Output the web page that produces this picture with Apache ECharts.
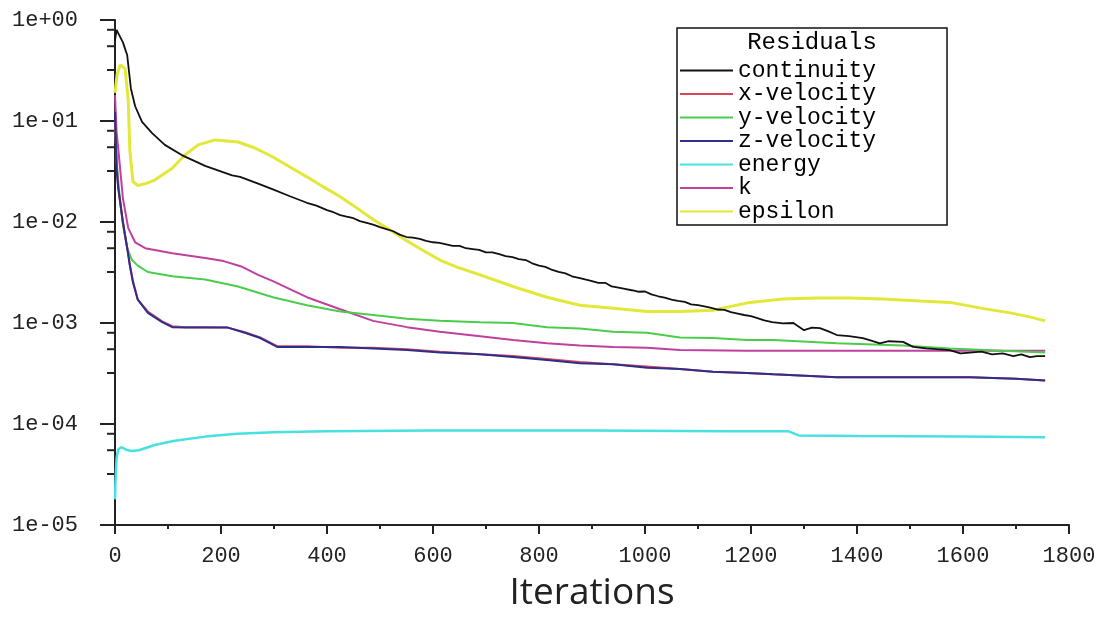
<!DOCTYPE html>
<html><head><meta charset="utf-8">
<script src="https://cdn.jsdelivr.net/npm/echarts@6/dist/echarts.min.js"></script>
<style>html,body{margin:0;padding:0;background:#fff}#c{width:1113px;height:618px}</style>
</head><body><div id="c"></div>
<script>
const legendTitle = 'Residuals';
const seriesNames = ['continuity','x-velocity','y-velocity','z-velocity','energy','k','epsilon'];
const xMin = 0, xMax = 1800, xInterval = 200;
const yMin = 1e-5, yMax = 1;
const yMinorTickFactors = [0.8, 0.55, 0.32];

const continuity = [[0,0.63],[3,0.8],[6,0.74],[9,0.76],[15,0.6],[20,0.5],[23,0.45],[25,0.36],[30,0.21],[38,0.14],[51,0.098],[70,0.076],[94,0.058],[126,0.046],[170,0.036],[221,0.029],[236,0.028],[270,0.024],[298,0.021],[330,0.018],[362,0.0155],[380,0.0145],[400,0.0131],[412,0.0125],[425,0.0117],[437,0.0113],[450,0.0109],[462,0.0102],[475,0.0098],[487,0.0094],[500,0.0089],[512,0.0085],[525,0.0081],[537,0.0075],[550,0.0071],[562,0.0070],[575,0.0068],[587,0.0065],[600,0.0063],[612,0.0062],[625,0.0060],[637,0.0058],[650,0.0058],[662,0.0055],[675,0.0054],[687,0.0053],[700,0.0050],[712,0.0050],[725,0.0048],[737,0.0046],[750,0.0045],[762,0.0043],[775,0.0042],[787,0.0039],[800,0.0037],[812,0.0036],[825,0.00335],[837,0.0032],[850,0.0031],[862,0.0029],[875,0.0028],[887,0.0027],[900,0.0026],[912,0.0025],[925,0.0025],[937,0.0023],[950,0.00224],[962,0.00218],[975,0.00211],[987,0.00204],[1000,0.00205],[1012,0.00192],[1025,0.00184],[1037,0.00178],[1050,0.0017],[1062,0.00166],[1075,0.00162],[1087,0.00153],[1100,0.0015],[1112,0.00146],[1125,0.00141],[1137,0.00136],[1150,0.00135],[1162,0.00128],[1175,0.00124],[1187,0.0012],[1200,0.00117],[1212,0.00112],[1225,0.00106],[1240,0.00102],[1260,0.00099],[1280,0.001],[1300,0.00085],[1315,0.0009],[1330,0.00089],[1345,0.00083],[1362,0.00076],[1385,0.00074],[1411,0.00071],[1430,0.00066],[1443,0.00063],[1460,0.00066],[1487,0.00065],[1506,0.00058],[1530,0.00056],[1551,0.00055],[1575,0.00054],[1595,0.0005],[1613,0.00051],[1635,0.00052],[1655,0.00049],[1675,0.0005],[1695,0.00047],[1710,0.00049],[1726,0.00046],[1740,0.00047],[1755,0.00047]];

const xVelocity = [[0,0.1],[3,0.04],[6,0.022],[10,0.015],[15,0.0098],[23,0.0056],[28,0.0038],[34,0.0026],[43,0.0017],[62,0.0013],[89,0.00104],[108,0.00093],[132,0.00091],[170,0.00091],[213,0.0009],[245,0.00081],[274,0.00072],[306,0.00059],[362,0.00059],[425,0.00057],[487,0.00057],[551,0.00055],[613,0.00052],[689,0.00049],[751,0.00047],[815,0.00044],[877,0.00041],[940,0.00039],[1004,0.00037],[1066,0.00035],[1128,0.00033],[1192,0.00032],[1242,0.00031],[1362,0.00029],[1487,0.00029],[1613,0.00029],[1700,0.00028],[1755,0.00027]];

const yVelocity = [[0,0.1],[3,0.04],[8,0.02],[15,0.0093],[23,0.0055],[32,0.0042],[43,0.0037],[62,0.0032],[108,0.0029],[170,0.0027],[232,0.0023],[298,0.0018],[362,0.0015],[425,0.0013],[487,0.0012],[551,0.0011],[613,0.00105],[689,0.00102],[751,0.001],[815,0.00091],[877,0.00088],[940,0.00082],[1004,0.0008],[1066,0.00072],[1128,0.00071],[1192,0.00068],[1242,0.00068],[1362,0.00063],[1487,0.0006],[1575,0.00056],[1675,0.00053],[1755,0.00051]];

const zVelocity = [[0,0.123],[3,0.033],[6,0.022],[15,0.01],[23,0.0055],[28,0.0037],[34,0.0025],[43,0.0017],[62,0.00126],[89,0.00102],[108,0.00091],[132,0.0009],[170,0.0009],[213,0.0009],[245,0.0008],[274,0.00071],[306,0.00058],[362,0.00058],[425,0.00058],[487,0.00056],[551,0.00054],[613,0.00051],[689,0.00049],[751,0.00046],[815,0.00043],[877,0.0004],[940,0.00039],[1004,0.00036],[1066,0.00035],[1128,0.00033],[1192,0.00032],[1242,0.00031],[1362,0.00029],[1487,0.00029],[1613,0.00029],[1700,0.00028],[1755,0.00027]];

const energy = [[0,1.8e-5],[1,2.8e-5],[3,4.6e-5],[6,5.6e-5],[12,5.9e-5],[20,5.6e-5],[30,5.4e-5],[45,5.5e-5],[75,6.2e-5],[110,6.8e-5],[170,7.5e-5],[230,8.0e-5],[300,8.3e-5],[400,8.5e-5],[600,8.6e-5],[900,8.6e-5],[1150,8.5e-5],[1270,8.5e-5],[1290,7.7e-5],[1400,7.6e-5],[1600,7.5e-5],[1755,7.4e-5]];

const kData = [[0,0.18],[3,0.078],[9,0.037],[15,0.017],[25,0.0087],[38,0.0063],[57,0.0055],[108,0.0049],[170,0.0044],[205,0.0041],[240,0.0036],[270,0.003],[298,0.0026],[362,0.0018],[425,0.00137],[487,0.00105],[551,0.00091],[613,0.00082],[689,0.00074],[751,0.00068],[815,0.00063],[877,0.0006],[940,0.00058],[1004,0.00057],[1066,0.00054],[1192,0.00053],[1300,0.00053],[1500,0.00053],[1755,0.00053]];

const epsilon = [[0,0.19],[4,0.29],[10,0.36],[19,0.33],[25,0.16],[28,0.051],[34,0.025],[43,0.023],[58,0.024],[75,0.026],[108,0.034],[132,0.046],[157,0.058],[189,0.065],[232,0.062],[264,0.054],[298,0.044],[330,0.035],[362,0.028],[395,0.022],[425,0.0178],[456,0.0138],[487,0.0106],[520,0.0083],[551,0.0065],[582,0.0052],[613,0.0042],[650,0.0035],[689,0.003],[751,0.0023],[815,0.0018],[877,0.0015],[940,0.0014],[1004,0.0013],[1066,0.0013],[1128,0.00134],[1198,0.0016],[1260,0.00173],[1325,0.00177],[1387,0.00177],[1449,0.00173],[1519,0.00165],[1575,0.0016],[1642,0.00138],[1689,0.00126],[1726,0.00115],[1755,0.00105]];

const seriesData = {
  'continuity': continuity, 'x-velocity': xVelocity, 'y-velocity': yVelocity,
  'z-velocity': zVelocity, 'energy': energy, 'k': kData, 'epsilon': epsilon
};
const colors = {
  'continuity':'#111111','x-velocity':'#d8465a','y-velocity':'#4ccc4c',
  'z-velocity':'#2e2e8c','energy':'#48e0e0','k':'#c0409e','epsilon':'#e2e838'
};
const widths = {'continuity':1.8,'x-velocity':2,'y-velocity':2,'z-velocity':2,'energy':2.5,'k':2,'epsilon':3};
const drawOrder = ['epsilon','energy','k','y-velocity','x-velocity','z-velocity','continuity'];

const monoFont = 'Liberation Mono';
function fmtExp(v){
  const e = Math.round(Math.log10(v));
  const s = e < 0 ? '-' : '+';
  const a = Math.abs(e);
  return '1e' + s + (a < 10 ? '0' + a : '' + a);
}

const option = {
  animation: false,
  backgroundColor: '#ffffff',
  grid: { left: 115, right: 44, top: 20, bottom: 93, outerBoundsMode: 'none', containLabel: false },
  legend: {
    data: seriesNames, orient: 'vertical', left: 677, top: 28,
    padding: [31, 71, 2, 3], itemGap: 0.5, itemWidth: 53, itemHeight: 2, icon: 'rect',
    borderColor: '#111', borderWidth: 1.5, backgroundColor: '#fff', selectedMode: false,
    textStyle: { fontFamily: monoFont, fontSize: 23, lineHeight: 22, color: '#000' }
  },
  xAxis: {
    type: 'value', min: xMin, max: xMax, interval: xInterval,
    name: 'Iterations', nameLocation: 'middle', nameGap: 50,
    nameTextStyle: { fontFamily: 'Open Sans', fontSize: 37, color: '#222' },
    axisLine: { show: true, onZero: false, lineStyle: { color: '#222', width: 2 } },
    axisTick: { show: true, length: 9, lineStyle: { color: '#222', width: 2 } },
    minorTick: { show: true, splitNumber: 2, length: 4, lineStyle: { color: '#222', width: 2 } },
    splitLine: { show: false }, minorSplitLine: { show: false },
    axisLabel: { margin: 20, fontFamily: monoFont, fontSize: 22, color: '#222', formatter: v => String(v) }
  },
  yAxis: {
    type: 'log', logBase: 10, min: yMin, max: yMax,
    axisLine: { show: true, onZero: false, lineStyle: { color: '#222', width: 2 } },
    axisTick: { show: true, length: 15, lineStyle: { color: '#222', width: 2 } },
    splitLine: { show: false },
    axisLabel: { margin: 37, fontFamily: monoFont, fontSize: 22, color: '#222', formatter: fmtExp }
  },
  series: drawOrder.map(n => ({
    name: n, type: 'line', data: seriesData[n], showSymbol: false, symbol: 'none',
    color: colors[n], lineStyle: { color: colors[n], width: widths[n] }, z: 2
  }))
};

const chart = echarts.init(document.getElementById('c'), null, { renderer: 'canvas' });
chart.setOption(option);

const axisX = chart.convertToPixel({ xAxisIndex: 0 }, 0);
const graphics = [{
  type: 'text', x: 812, y: 43, z: 100,
  style: { text: legendTitle, align: 'center', verticalAlign: 'middle', font: '24px "Liberation Mono"', fill: '#000' }
}];
for (let e = 0; e > Math.log10(yMin); e--) {
  for (const f of yMinorTickFactors) {
    const py = chart.convertToPixel({ yAxisIndex: 0 }, f * Math.pow(10, e));
    graphics.push({ type: 'line', shape: { x1: axisX - 8, y1: py, x2: axisX, y2: py }, style: { stroke: '#222', lineWidth: 2 } });
  }
}
chart.setOption({ graphic: graphics });
</script></body></html>
